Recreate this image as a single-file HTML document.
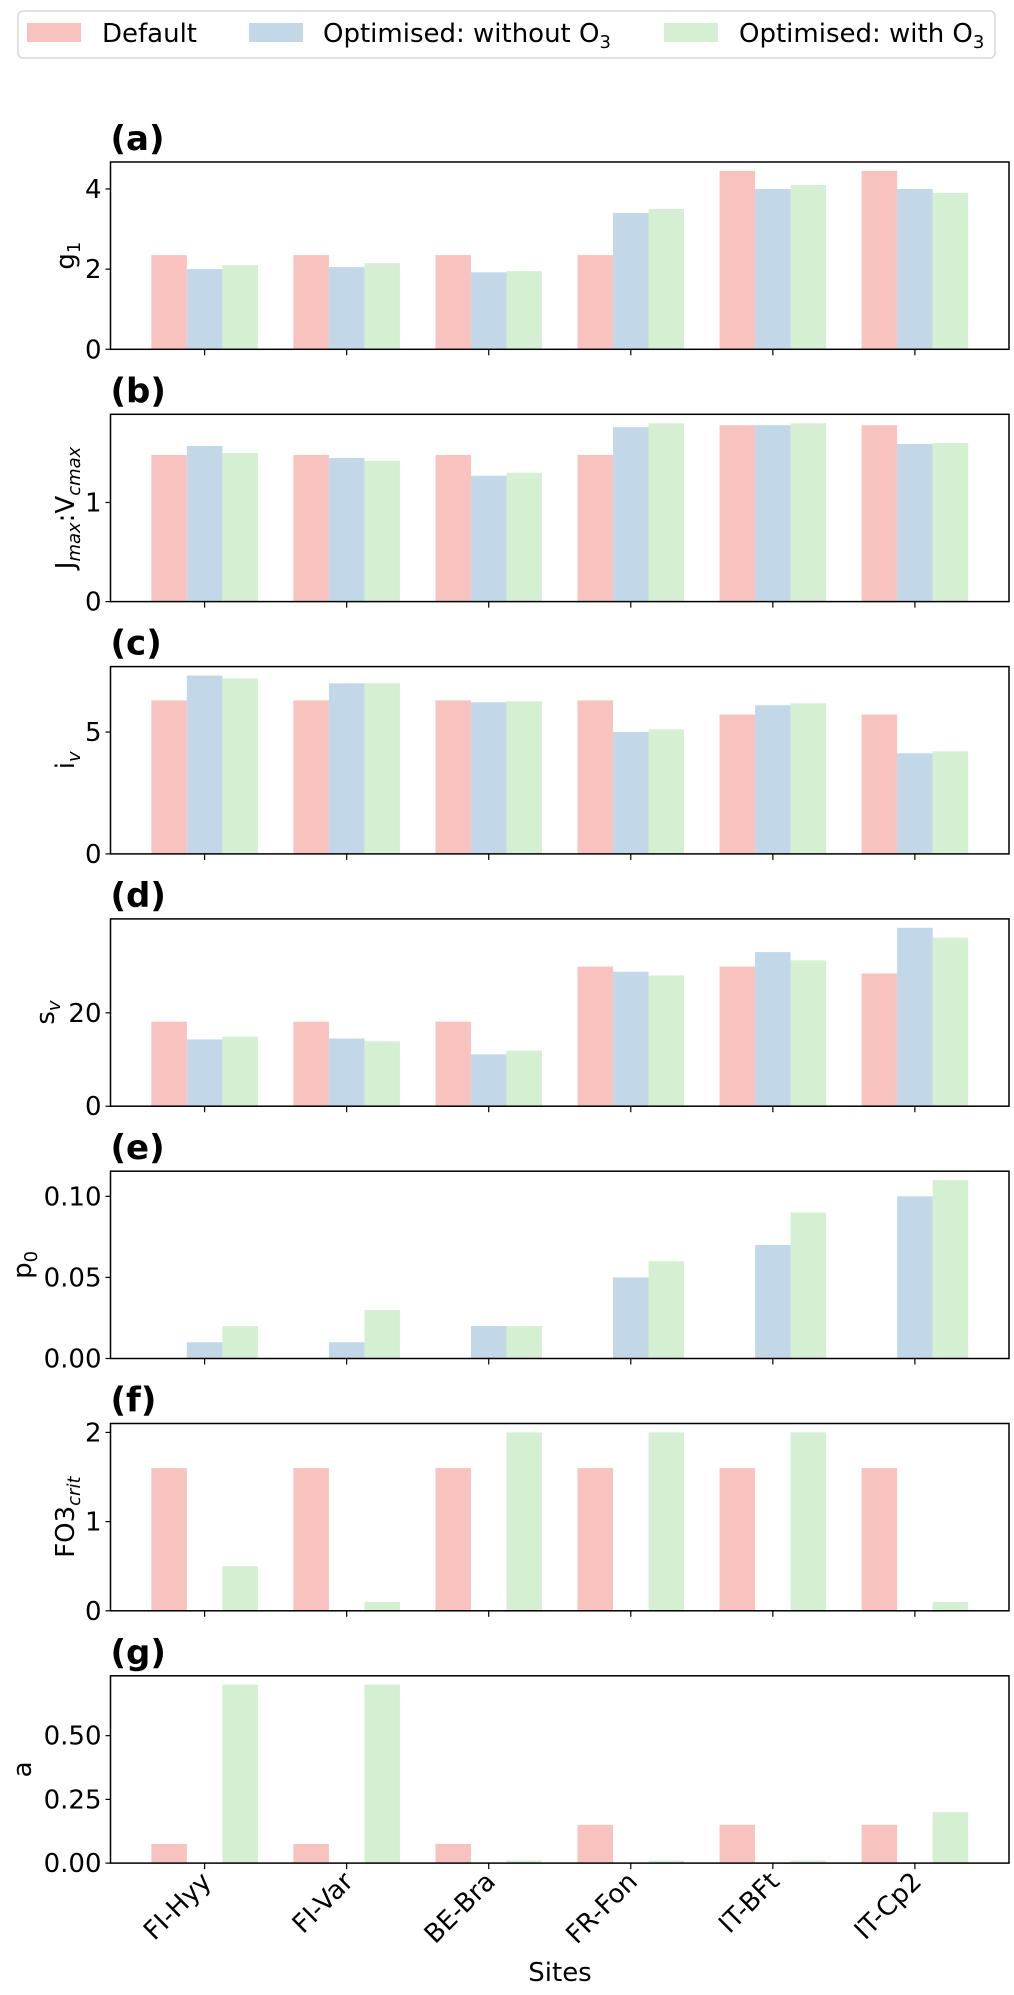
<!DOCTYPE html>
<html><head><meta charset="utf-8"><style>
body{margin:0;background:#fff;}
svg{display:block;font-family:"DejaVu Sans","Liberation Sans",sans-serif;}
</style></head><body>
<svg id="chart" width="1014" height="1995" viewBox="0 0 1014 1995" xmlns="http://www.w3.org/2000/svg">
<g>
<rect x="18" y="11" width="977" height="47" rx="5" fill="#fff" stroke="#d8d8d8" stroke-width="1.5"/>
<rect x="27" y="23" width="54" height="19" fill="#f8c3bf"/>
<text x="102" y="42" font-size="26">Default</text>
<rect x="249" y="23" width="54" height="19" fill="#c2d7e8"/>
<text x="323" y="42" font-size="26">Optimised: without O<tspan font-size="18" dy="6">3</tspan></text>
<rect x="664" y="23" width="54" height="19" fill="#d5efd2"/>
<text x="739" y="42" font-size="26">Optimised: with O<tspan font-size="18" dy="6">3</tspan></text>
</g>
<g id="panels"></g>
<text x="560" y="1981" font-size="26" text-anchor="middle">Sites</text>
</svg>
<script>
const sites = ["FI-Hyy","FI-Var","BE-Bra","FR-Fon","IT-BFt","IT-Cp2"];
const seriesNames = ["default","without-o3","with-o3"];
const colors = ["#f8c3bf","#c2d7e8","#d5efd2"];
const panelLetters = ["(a)","(b)","(c)","(d)","(e)","(f)","(g)"];
const g1Default = [2.35,2.35,2.35,2.35,4.45,4.45];
const g1Without = [2.0,2.05,1.92,3.4,4.0,4.0];
const g1With = [2.1,2.15,1.95,3.5,4.1,3.9];
const jvDefault = [1.48,1.48,1.48,1.48,1.78,1.78];
const jvWithout = [1.57,1.45,1.27,1.76,1.78,1.59];
const jvWith = [1.50,1.42,1.30,1.80,1.80,1.60];
const ivDefault = [6.3,6.3,6.3,6.3,5.72,5.72];
const ivWithout = [7.32,7.0,6.22,5.0,6.1,4.13];
const ivWith = [7.2,7.0,6.26,5.11,6.18,4.21];
const svDefault = [18.1,18.1,18.1,29.9,29.9,28.4];
const svWithout = [14.3,14.5,11.1,28.8,33.0,38.2];
const svWith = [14.9,13.9,11.9,28.0,31.2,36.1];
const p0Default = [0,0,0,0,0,0];
const p0Without = [0.01,0.01,0.02,0.05,0.07,0.10];
const p0With = [0.02,0.03,0.02,0.06,0.09,0.11];
const fo3Default = [1.6,1.6,1.6,1.6,1.6,1.6];
const fo3Without = [0,0,0,0,0,0];
const fo3With = [0.5,0.1,2,2,2,0.1];
const aDefault = [0.075,0.075,0.075,0.15,0.15,0.15];
const aWithout = [0,0,0,0,0,0];
const aWith = [0.7,0.7,0.01,0.01,0.01,0.2];
const ticksA = [0,2,4], ticksB = [0,1], ticksC = [0,5], ticksD = [0,20];
const ticksE = [0,0.05,0.1], ticksF = [0,1,2], ticksG = [0,0.25,0.5];
const tickLabelsE = ["0.00","0.05","0.10"], tickLabelsG = ["0.00","0.25","0.50"];

const panels = [
 {series:[g1Default,g1Without,g1With], ticks:ticksA, labels:null, yl:'g<tspan font-size="18" dy="6">1</tspan>', ylx:65, name:"g1"},
 {series:[jvDefault,jvWithout,jvWith], ticks:ticksB, labels:null, yl:'J<tspan font-size="18" dy="6" font-style="italic">max</tspan><tspan dy="-6">:V</tspan><tspan font-size="18" dy="6" font-style="italic">cmax</tspan>', ylx:65, name:"jmax-vcmax"},
 {series:[ivDefault,ivWithout,ivWith], ticks:ticksC, labels:null, yl:'i<tspan font-size="18" dy="6" font-style="italic">v</tspan>', ylx:65, name:"iv"},
 {series:[svDefault,svWithout,svWith], ticks:ticksD, labels:null, yl:'s<tspan font-size="18" dy="6" font-style="italic">v</tspan>', ylx:45, name:"sv"},
 {series:[p0Default,p0Without,p0With], ticks:ticksE, labels:tickLabelsE, yl:'p<tspan font-size="18" dy="6">0</tspan>', ylx:22, name:"p0"},
 {series:[fo3Default,fo3Without,fo3With], ticks:ticksF, labels:null, yl:'FO3<tspan font-size="18" dy="6" font-style="italic">crit</tspan>', ylx:65, name:"fo3crit"},
 {series:[aDefault,aWithout,aWith], ticks:ticksG, labels:tickLabelsG, yl:'a', ylx:22, name:"a"}
];
const NS="http://www.w3.org/2000/svg";
const root=document.getElementById('panels');
const L=110.5,R=1009,H=187.3,pitch=252.3,top0=162;
const xmin=-0.6625,xmax=5.6625;
function xs(v){return L+(v-xmin)/(xmax-xmin)*(R-L);}
const slot=(xs(1)-xs(0));
function mk(tag,attrs,parent){const e=document.createElementNS(NS,tag);for(const k in attrs)e.setAttribute(k,attrs[k]);parent.appendChild(e);return e;}
panels.forEach((p,pi)=>{
  const T=top0+pi*pitch,B=T+H;
  let mx=0;p.series.forEach(s=>s.forEach(v=>{if(v>mx)mx=v;}));
  const ymax=mx*1.05;
  const ys=v=>B-v/ymax*H;
  const g=mk('g',{},root);
  
  
  const t=mk('text',{x:L,y:T-12,'font-size':34,'font-weight':'bold'},g);
  t.textContent=panelLetters[pi];
  
  
  p.series.forEach((s,si)=>{
    s.forEach((v,i)=>{
      const x=xs(i)+(si-1.5)*slot*0.25;
      const r=mk('rect',{x:x,y:ys(v),width:slot*0.25,height:B-ys(v),fill:colors[si]},g);
      
      
    });
  });
  const fr=mk('rect',{x:L,y:T,width:R-L,height:H,fill:'none',stroke:'#000','stroke-width':1.5},g);
  
  
  p.ticks.forEach((tv,ti)=>{
    const y=ys(tv);
    mk('line',{x1:L-5,x2:L,y1:y,y2:y,stroke:'#000','stroke-width':1.2},g);
    const tl=mk('text',{x:L-9,y:y+9,'font-size':26,'text-anchor':'end'},g);
    tl.textContent=p.labels?p.labels[ti]:String(tv);
    
    
  });
  sites.forEach((s,i)=>{mk('line',{x1:xs(i),x2:xs(i),y1:B,y2:B+6,stroke:'#000','stroke-width':1.2},g);});
  const yl=mk('text',{x:0,y:0,'font-size':26,'text-anchor':'middle',transform:'translate('+(p.ylx+9)+','+(T+H/2)+') rotate(-90)'},g);
  yl.innerHTML=p.yl;
  
  
  if(pi===panels.length-1){
    sites.forEach((s,i)=>{
      const xl=mk('text',{x:0,y:0,'font-size':26,'text-anchor':'end',transform:'translate('+(xs(i)+8)+','+(B+20)+') rotate(-45)'},g);
      xl.textContent=s;
      
      
    });
  }
});
</script>
</body></html>
